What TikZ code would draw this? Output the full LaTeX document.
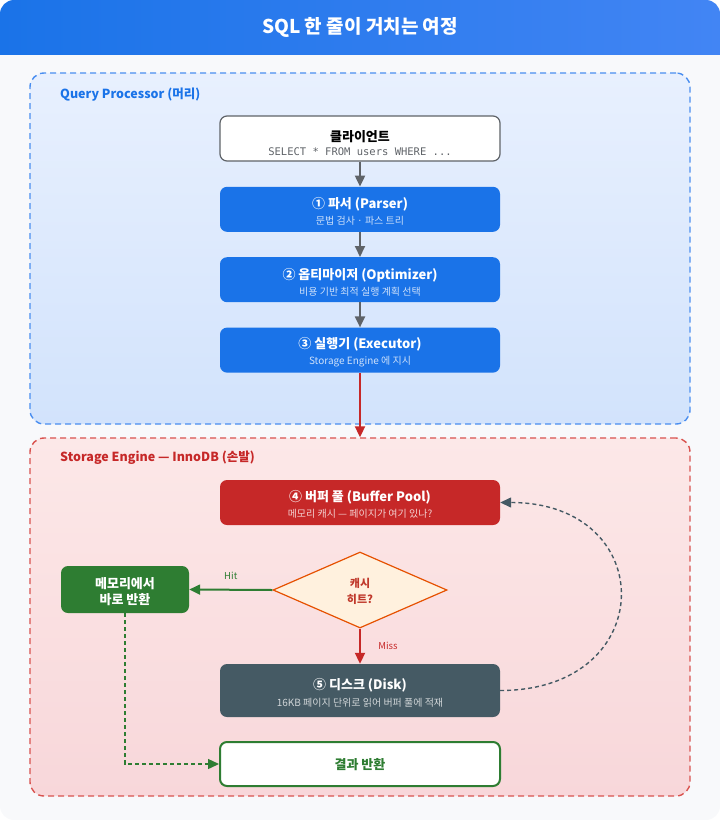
\documentclass[tikz,border=0pt]{standalone}
\usepackage{fontspec}
\setmainfont{Noto Sans CJK KR}
\setmonofont{DejaVu Sans Mono}
\usepackage{xcolor}
\usetikzlibrary{arrows.meta,positioning,shapes.geometric}

\definecolor{pagebg}{HTML}{F8F9FB}
\definecolor{headleft}{HTML}{1A73E8}
\definecolor{headright}{HTML}{4285F4}
\definecolor{qpblue}{HTML}{1A73E8}
\definecolor{qptop}{HTML}{E8F0FE}
\definecolor{qpbot}{HTML}{D2E3FC}
\definecolor{qpdash}{HTML}{4A8EF0}
\definecolor{sered}{HTML}{C62828}
\definecolor{setop}{HTML}{FCE8E8}
\definecolor{sebot}{HTML}{F8D7DA}
\definecolor{sedash}{HTML}{D9534F}
\definecolor{flowgray}{HTML}{5F6368}
\definecolor{diskgray}{HTML}{455A64}
\definecolor{okgreen}{HTML}{2E7D32}
\definecolor{askfill}{HTML}{FFF1DE}
\definecolor{askline}{HTML}{E65100}
\definecolor{asktext}{HTML}{C0392B}

% first line carries a strut so the text block sits a little low, as in the boxes drawn
\newcommand{\boxhead}[2][15.5pt]{{\fontsize{13}{15}\selectfont\bfseries\rule{0pt}{#1}#2}}
\newcommand{\boxsub}[2]{{\fontsize{10}{12}\selectfont\color{#1}#2}}

\begin{document}
\begin{tikzpicture}[
  x=1pt, y=1pt,
  font=\fontsize{10}{12}\selectfont,
  >={Triangle[length=11pt,width=10pt]},
  node distance=25pt,
  pass/.style={rounded corners=7pt, align=center, minimum width=280pt, minimum height=45pt, inner sep=0pt},
  client/.style={pass, fill=white, draw=flowgray, line width=1.2pt},
  stage/.style={pass, fill=qpblue, text=white},
  pool/.style={pass, fill=sered, text=white},
  disk/.style={pass, fill=diskgray, text=white, minimum height=53pt},
  done/.style={pass, fill=white, draw=okgreen, line width=2pt, minimum height=44pt, text=okgreen},
  hitbox/.style={pass, fill=okgreen, text=white, minimum width=128pt, minimum height=47pt},
  ask/.style={diamond, draw=askline, line width=1.2pt, fill=askfill, text=asktext, align=center, inner sep=0pt, minimum width=174pt, minimum height=76pt, font=\fontsize{11}{13}\selectfont\bfseries},
  zone/.style={rounded corners=14pt, dashed, dash pattern=on 6pt off 4pt, line width=1.4pt, minimum width=660pt},
  zonelabel/.style={anchor=west, inner sep=0pt, font=\fontsize{12.5}{15}\selectfont\bfseries},
  flow/.style={->, line width=2pt, draw=flowgray, color=flowgray},
  handoff/.style={->, line width=2pt, color=sered},
  hit/.style={->, line width=2pt, color=okgreen},
  back/.style={->, line width=1.4pt, color=diskgray, dashed, dash pattern=on 4pt off 3pt}
]
\useasboundingbox (0,0) rectangle (720,-820);

% card and title bar
\begin{scope}
  \clip[rounded corners=14pt] (0,0) rectangle (720,-820);
  \fill[pagebg] (0,0) rectangle (720,-820);
  \shade[left color=headleft, right color=headright] (0,0) rectangle (720,-54);
\end{scope}
\node[text=white, font=\fontsize{19}{22}\selectfont\bfseries] (title) at (360,-27) {SQL 한 줄이 거치는 여정};

% zones
\node[zone, draw=qpdash, top color=qptop, bottom color=qpbot, minimum height=351pt] (qp) at (360,-248.5) {};
\node[zonelabel, text=qpblue] (qplabel) at (60,-95) {Query Processor (머리)};
\node[zone, draw=sedash, top color=setop, bottom color=sebot, minimum height=358pt] (se) at (360,-617) {};
\node[zonelabel, text=sered] (selabel) at (60,-458) {Storage Engine — InnoDB (손발)};

% query processor
\node[client] (client) at (360,-138.5) {\boxhead[21pt]{클라이언트}\\[2pt]{\ttfamily\fontsize{10.5}{12}\selectfont\color{flowgray}SELECT * FROM users WHERE ...}};
\node[stage, below=of client] (parser) {\boxhead{① 파서 (Parser)}\\[4pt]\boxsub{white!78!qpblue}{문법 검사 · 파스 트리}};
\node[stage, below=of parser] (optimizer) {\boxhead{② 옵티마이저 (Optimizer)}\\[4pt]\boxsub{white!78!qpblue}{비용 기반 최적 실행 계획 선택}};
\node[stage, below=of optimizer] (executor) {\boxhead{③ 실행기 (Executor)}\\[4pt]\boxsub{white!78!qpblue}{Storage Engine 에 지시}};

% storage engine
\node[pool] (pool) at (360,-502.5) {\boxhead{④ 버퍼 풀 (Buffer Pool)}\\[4pt]\boxsub{white!78!sered}{메모리 캐시 — 페이지가 여기 있나?}};
\node[ask] (cachehit) at (360,-590) {\rule{0pt}{12pt}캐시\\[3pt]히트?};
\node[hitbox] (memory) at (125,-589.5) {\boxhead{메모리에서}\\[2pt]{\fontsize{13}{15}\selectfont\bfseries 바로 반환}};
\node[disk] (disk) at (360,-690.5) {\boxhead{⑤ 디스크 (Disk)}\\[5pt]\boxsub{white!75!diskgray}{16KB 페이지 단위로 읽어 버퍼 풀에 적재}};
\node[done] (result) at (360,-764) {\boxhead[13pt]{결과 반환}};

\draw[flow] (client) -- (parser);
\draw[flow] (parser) -- (optimizer);
\draw[flow] (optimizer) -- (executor);
\draw[handoff] (executor) -- (se.north);
\draw[hit] (cachehit.west) -- node[above=6pt, font=\fontsize{9.5}{11}\selectfont] {Hit} (memory.east);
\draw[handoff] (cachehit.south) -- node[right=14pt, font=\fontsize{9.5}{11}\selectfont] {Miss} (disk.north);
\draw[back] (disk.east) .. controls (660,-690.5) and (660,-502.5) .. (pool.east);
\draw[hit, dashed, line width=1.4pt, dash pattern=on 4pt off 3pt] (memory.south) |- (result.west);
\end{tikzpicture}
\end{document}
